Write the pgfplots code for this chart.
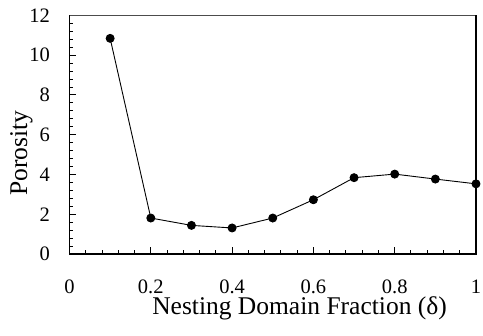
\documentclass[border=0pt]{standalone}
\usepackage{pgfplots}
\pgfplotsset{compat=1.18}
\usepackage{fontspec}
\setmainfont{Liberation Serif}

\begin{document}
\begin{tikzpicture}
% fixed canvas around the axis box
\path[use as bounding box] (-69.5bp,-82bp) rectangle (413.5bp,254bp);
\begin{axis}[
  name=ax,
  at={(0,0)}, anchor=south west,
  scale only axis,
  width=406.5bp, height=238.5bp,
  xmin=0, xmax=1, ymin=0, ymax=12,
  clip=false,
  xtick={0,0.2,...,1.0}, ytick={0,2,...,12},
  xticklabels={0,0.2,0.4,0.6,0.8,1},
  minor x tick num=4, minor y tick num=4,
  tick align=inside,
  xtick pos=left, ytick pos=left,
  major tick length=7bp, minor tick length=4bp,
  tick style={black, line width=1bp},
  axis line style={black, line width=1.5bp},
  /pgf/number format/assume math mode=true,
  ticklabel style={font=\fontsize{20.5bp}{24bp}\selectfont, inner sep=0pt},
  xticklabel style={anchor=base, yshift=-39bp},
  yticklabel style={anchor=east, xshift=-19.5bp},
  xlabel={Nesting Domain Fraction (δ)},
  ylabel={Porosity},
  label style={font=\fontsize{25.5bp}{30bp}\selectfont, inner sep=0pt},
  xlabel style={at={(axis description cs:0.566,-0.255)}, anchor=base},
  ylabel style={at={(axis description cs:-0.118,0.4235)}, anchor=center},
]
\addplot[black, line width=0.9bp, mark=*, mark size=4bp, mark options={fill=black}]
  coordinates {
    (0.1,10.85) (0.2,1.81) (0.3,1.44) (0.4,1.31) (0.5,1.81)
    (0.6,2.73) (0.7,3.84) (0.8,4.02) (0.9,3.77) (1.0,3.53)
  };
\end{axis}
% top and right edges of the frame
\draw[black!70, line width=1.5bp] (ax.north west) -- (ax.north east);
\draw[black, line width=1.5bp] (ax.north east) -- (ax.south east);
\end{tikzpicture}
\end{document}
